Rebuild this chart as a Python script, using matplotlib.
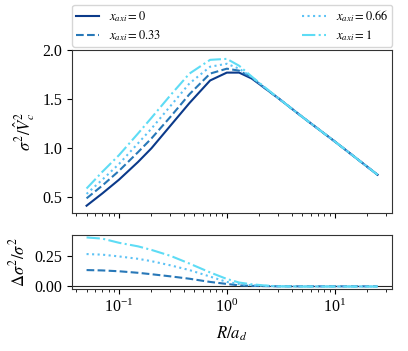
import matplotlib
matplotlib.use('Agg')
import matplotlib.pyplot as plt
import numpy as np

plt.rcParams['font.family'] = ['Liberation Serif', 'DejaVu Serif']
plt.rcParams['mathtext.fontset'] = 'stix'

# radius grid (R / a_d)
R = [0.05, 0.07, 0.1, 0.15, 0.2, 0.3, 0.45, 0.7, 1.0, 1.3, 1.7, 2.2, 3, 5, 10, 25]

# sigma^2 / Vc^2 for each x_axi
sig_0 = [0.415, 0.54, 0.68, 0.86, 1.00, 1.23, 1.46, 1.69, 1.77, 1.77, 1.71, 1.62, 1.51, 1.32, 1.07, 0.73]
sig_033 = [0.49, 0.62, 0.77, 0.96, 1.10, 1.32, 1.55, 1.76, 1.81, 1.79, 1.72, 1.62, 1.51, 1.32, 1.07, 0.73]
sig_066 = [0.535, 0.68, 0.84, 1.05, 1.20, 1.43, 1.66, 1.83, 1.86, 1.81, 1.725, 1.625, 1.51, 1.32, 1.07, 0.73]
sig_1 = [0.59, 0.76, 0.93, 1.15, 1.31, 1.54, 1.76, 1.90, 1.91, 1.84, 1.73, 1.63, 1.51, 1.32, 1.07, 0.73]

# relative difference to x_axi = 0
d_033 = [0.135, 0.132, 0.125, 0.112, 0.100, 0.082, 0.062, 0.035, 0.018, 0.006, 0.002, 0.0, -0.002, -0.002, -0.002, -0.002]
d_066 = [0.27, 0.265, 0.25, 0.23, 0.21, 0.175, 0.135, 0.08, 0.035, 0.017, 0.007, 0.002, -0.002, -0.003, -0.003, -0.003]
d_1 = [0.41, 0.40, 0.365, 0.335, 0.305, 0.255, 0.19, 0.115, 0.06, 0.03, 0.015, 0.006, -0.002, -0.004, -0.004, -0.004]

labels = [r'$x_{axi}=0$', r'$x_{axi}=0.33$', r'$x_{axi}=0.66$', r'$x_{axi}=1$']
colors = ['#0b3a8a', '#2878b8', '#5cc2f5', '#5edcf5']
styles = ['-', '--', ':', '-.']

fig = plt.figure(figsize=(4.08, 3.51), dpi=100)
ax1 = fig.add_axes([0.1765, 0.393, 0.7845, 0.4645])
ax2 = fig.add_axes([0.1765, 0.1766, 0.7845, 0.1539], sharex=ax1)

for y, c, ls, lab in zip([sig_0, sig_033, sig_066, sig_1], colors, styles, labels):
    ax1.plot(R, y, color=c, ls=ls, lw=1.5, label=lab)

ax2.axhline(0, color='0.15', lw=0.8)
for y, c, ls in zip([d_033, d_066, d_1], colors[1:], styles[1:]):
    ax2.plot(R, y, color=c, ls=ls, lw=1.5)

ax1.set_xscale('log')
ax1.set_yticks([0.5, 1.0, 1.5, 2.0])
ax2.set_yticks([0.0, 0.25])
ax1.tick_params(labelbottom=False)

for ax in (ax1, ax2):
    ax.tick_params(labelsize=11.5, direction='out')
    for s in ax.spines.values():
        s.set_color('0.2')

ax1.set_ylabel(r'$\sigma^2/\hat{V}_c^2$', fontsize=12)
ax2.set_ylabel(r'$\Delta\sigma^2/\sigma^2$', fontsize=12)
ax2.set_xlabel(r'$R/a_d$', fontsize=12, labelpad=6)

ax1.legend(bbox_to_anchor=(0, 1.02, 1, 0.2), loc='lower left', mode='expand',
           ncol=2, borderaxespad=0, fontsize=9, handlelength=1.85,
           labelspacing=0.3, borderpad=0.3)

fig.savefig('out.png', dpi=100)
plt.close()
